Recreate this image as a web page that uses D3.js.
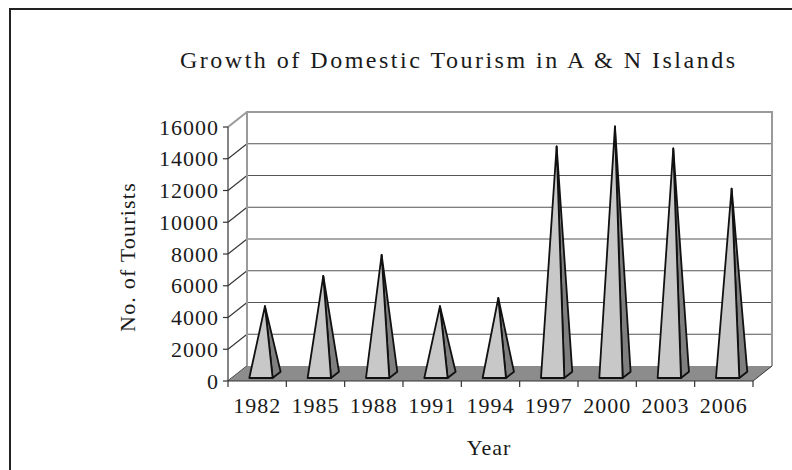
<!DOCTYPE html>
<html>
<head>
<meta charset="utf-8">
<script src="https://cdn.jsdelivr.net/npm/d3@7"></script>
<style>
  body { margin: 0; background: #fff; }
  text { font-family: "Liberation Serif", "Times New Roman", serif; fill: #1a1a1a; }
</style>
</head>
<body>
<div id="chart"></div>
<script>
const years = ["1982", "1985", "1988", "1991", "1994", "1997", "2000", "2003", "2006"];
const tourists = [4330, 6230, 7560, 4330, 4840, 14390, 15650, 14260, 11730];
const yTicks = [0, 2000, 4000, 6000, 8000, 10000, 12000, 14000, 16000];

const W = 792, H = 470;
const plotLeft = 228, plotRight = 753, plotBottom = 381, plotTop = 127;
const depthX = 19, depthY = -15;

let svg = d3.select("#chart").append("svg")
    .attr("width", W).attr("height", H);

// outer frame
svg.append("rect")
    .attr("x", 10).attr("y", 9)
    .attr("width", W + 20).attr("height", H + 20)
    .attr("fill", "none").attr("stroke", "#222").attr("stroke-width", 2);

let x = d3.scaleBand().domain(years).range([plotLeft, plotRight]).padding(0);
let y = d3.scaleLinear().domain([0, 16000]).range([plotBottom, plotTop]);

// project a point (screen x at front, value, depth 0..1)
const P = (px, v, d) => [px + d * depthX, y(v) + d * depthY];

// back wall
svg.append("rect")
    .attr("x", plotLeft + depthX).attr("y", plotTop + depthY)
    .attr("width", plotRight - plotLeft).attr("height", plotBottom - plotTop)
    .attr("fill", "#fff");

// back gridlines
svg.selectAll("line.grid")
    .data(yTicks.slice(1))
    .enter().append("line")
    .attr("class", "grid")
    .attr("x1", plotLeft + depthX).attr("x2", plotRight + depthX)
    .attr("y1", d => y(d) + depthY).attr("y2", d => y(d) + depthY)
    .attr("stroke", "#555").attr("stroke-width", 1.2);

// left wall diagonals + ticks
svg.selectAll("line.diag")
    .data(yTicks)
    .enter().append("line")
    .attr("class", "diag")
    .attr("x1", plotLeft).attr("x2", plotLeft + depthX)
    .attr("y1", d => y(d)).attr("y2", d => y(d) + depthY)
    .attr("stroke", d => d === 16000 ? "#999" : "#333")
    .attr("stroke-width", d => d === 16000 ? 2 : 1.1);

svg.selectAll("line.ytickmark")
    .data(yTicks)
    .enter().append("line")
    .attr("class", "ytickmark")
    .attr("x1", plotLeft - 5).attr("x2", plotLeft)
    .attr("y1", d => y(d)).attr("y2", d => y(d))
    .attr("stroke", "#333").attr("stroke-width", 1.2);

// wall frame
svg.append("path")
    .attr("d", d3.line()([
        [plotLeft + depthX, plotBottom + depthY],
        [plotLeft + depthX, plotTop + depthY],
        [plotRight + depthX, plotTop + depthY],
        [plotRight + depthX, plotBottom + depthY]
    ]))
    .attr("fill", "none").attr("stroke", "#9a9a9a").attr("stroke-width", 2);

// floor
svg.append("path")
    .attr("d", d3.line()([
        P(plotLeft, 0, 0), P(plotRight, 0, 0), P(plotRight, 0, 1), P(plotLeft, 0, 1)
    ]) + "Z")
    .attr("fill", "#8c8c8c");
svg.append("line")
    .attr("x1", plotRight).attr("y1", plotBottom)
    .attr("x2", plotRight + depthX).attr("y2", plotBottom + depthY)
    .attr("stroke", "#333").attr("stroke-width", 1);

// axes
svg.append("line")
    .attr("x1", plotLeft).attr("x2", plotLeft).attr("y1", plotTop).attr("y2", plotBottom)
    .attr("stroke", "#333").attr("stroke-width", 1.2);
svg.append("line")
    .attr("x1", plotLeft).attr("x2", plotRight).attr("y1", plotBottom).attr("y2", plotBottom)
    .attr("stroke", "#333").attr("stroke-width", 1.2);

svg.selectAll("line.xtick")
    .data(years.map(d => x(d)).concat([plotRight]))
    .enter().append("line")
    .attr("class", "xtick")
    .attr("x1", d => d).attr("x2", d => d)
    .attr("y1", plotBottom).attr("y2", plotBottom + 6)
    .attr("stroke", "#333").attr("stroke-width", 1.2);

svg.selectAll("text.ytick")
    .data(yTicks)
    .enter().append("text")
    .attr("class", "ytick")
    .attr("x", plotLeft - 9)
    .attr("y", d => y(d))
    .attr("dy", "0.35em")
    .attr("text-anchor", "end")
    .style("font-size", "22px")
    .style("letter-spacing", "1px")
    .text(d => d);

svg.selectAll("text.xtick")
    .data(years)
    .enter().append("text")
    .attr("class", "xtick")
    .attr("x", d => x(d) + x.bandwidth() / 2)
    .attr("y", 413)
    .attr("text-anchor", "middle")
    .style("font-size", "22px")
    .style("letter-spacing", "1px")
    .text(d => d);

// pyramids
const bw = x.bandwidth() * 0.4;
const d0 = 0.2, d1 = 0.62, dm = (d0 + d1) / 2;
let data = years.map((yr, i) => ({ yr, v: tourists[i] }));

let pyr = svg.selectAll("g.pyr")
    .data(data)
    .enter().append("g")
    .attr("class", "pyr");

pyr.append("path")
    .attr("d", d => {
        let cx = x(d.yr) + x.bandwidth() / 2;
        let x2 = cx + bw / 2;
        return d3.line()([P(x2, 0, d0), P(x2, 0, d1), P(cx, d.v, dm)]) + "Z";
    })
    .attr("fill", "#7f7f7f").attr("stroke", "#111")
    .attr("stroke-width", 1.8).attr("stroke-linejoin", "round");

pyr.append("path")
    .attr("d", d => {
        let cx = x(d.yr) + x.bandwidth() / 2;
        let x1 = cx - bw / 2, x2 = cx + bw / 2;
        return d3.line()([P(x1, 0, d0), P(x2, 0, d0), P(cx, d.v, dm)]) + "Z";
    })
    .attr("fill", "#c8c8c8").attr("stroke", "#111")
    .attr("stroke-width", 1.8).attr("stroke-linejoin", "round");

// titles
svg.append("text")
    .attr("x", 180).attr("y", 68)
    .attr("textLength", 555).attr("lengthAdjust", "spacing")
    .style("font-size", "24px")
    .text("Growth of Domestic Tourism in A & N Islands");

svg.append("text")
    .attr("x", 489).attr("y", 455)
    .attr("text-anchor", "middle")
    .style("font-size", "22px")
    .style("letter-spacing", "1px")
    .text("Year");

svg.append("text")
    .attr("transform", "translate(135,257) rotate(-90)")
    .attr("text-anchor", "middle")
    .style("font-size", "22px")
    .style("letter-spacing", "1.2px")
    .text("No. of Tourists");
</script>
</body>
</html>
